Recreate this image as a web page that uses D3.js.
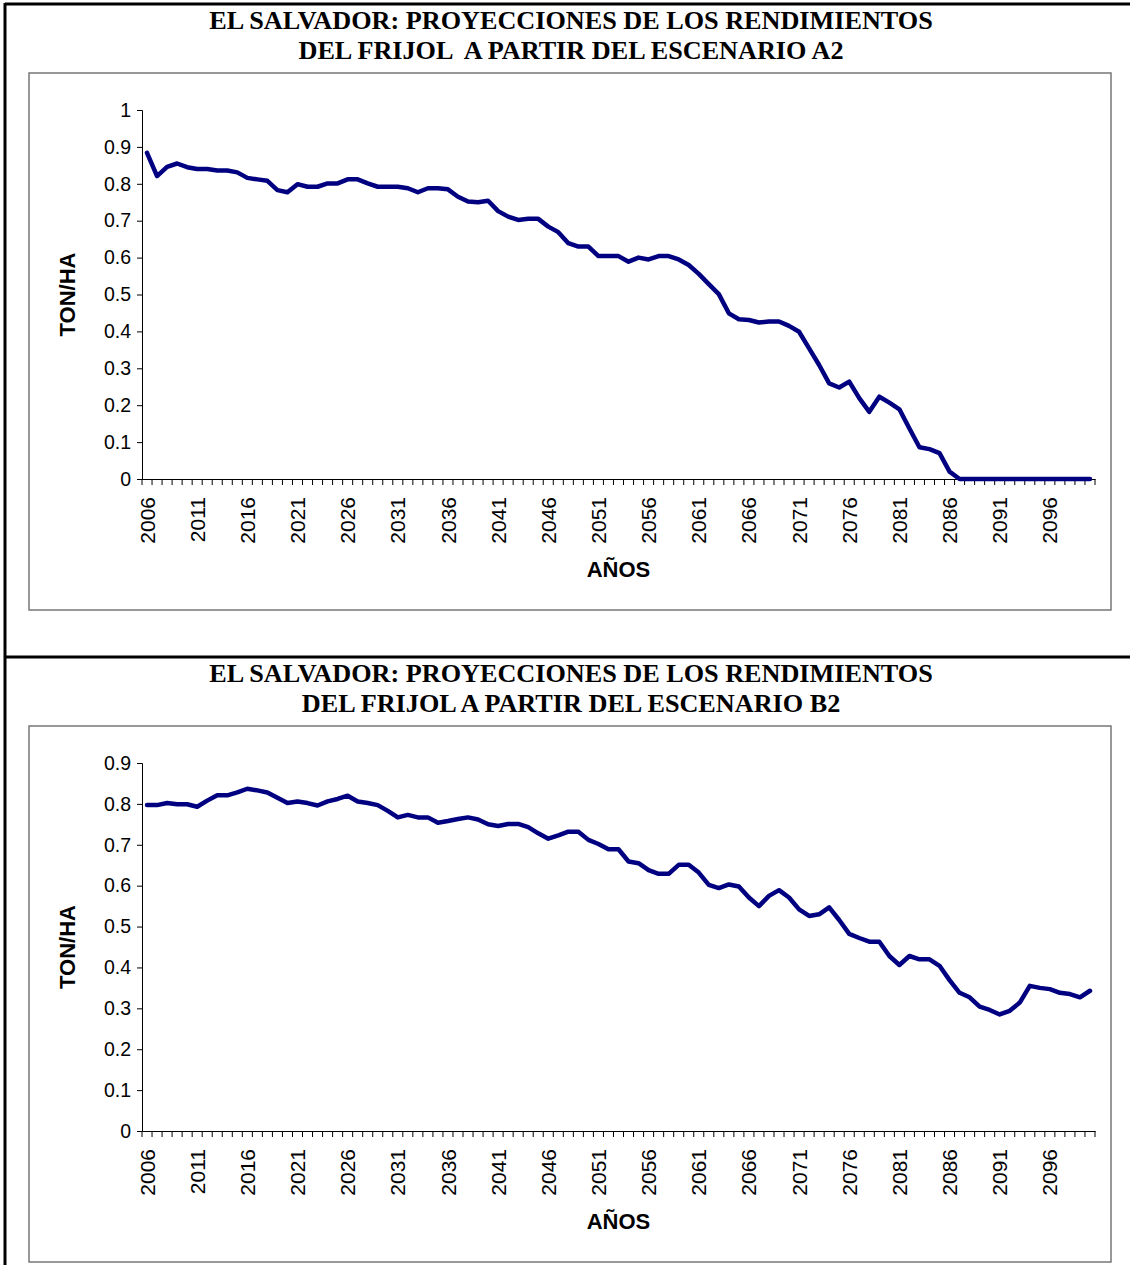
<!DOCTYPE html>
<html><head><meta charset="utf-8">
<script src="https://cdn.jsdelivr.net/npm/d3@7"></script>
<style>body{margin:0;background:#fff}svg{display:block}</style>
</head><body>
<svg id="c" width="1130" height="1265"></svg>
<script>
const years = [2006,2007,2008,2009,2010,2011,2012,2013,2014,2015,2016,2017,2018,2019,2020,2021,2022,2023,2024,2025,
2026,2027,2028,2029,2030,2031,2032,2033,2034,2035,2036,2037,2038,2039,2040,2041,2042,2043,2044,2045,
2046,2047,2048,2049,2050,2051,2052,2053,2054,2055,2056,2057,2058,2059,2060,2061,2062,2063,2064,2065,
2066,2067,2068,2069,2070,2071,2072,2073,2074,2075,2076,2077,2078,2079,2080,2081,2082,2083,2084,2085,
2086,2087,2088,2089,2090,2091,2092,2093,2094,2095,2096,2097,2098,2099,2100];
const xTickLabels = ["2006","2011","2016","2021","2026","2031","2036","2041","2046","2051","2056","2061","2066","2071","2076","2081","2086","2091","2096"];
const a2Values = [0.884,0.821,0.846,0.855,0.845,0.840,0.840,0.836,0.836,0.831,0.816,0.812,0.808,0.783,0.777,0.799,0.792,0.792,0.801,0.801,
0.812,0.812,0.801,0.792,0.792,0.792,0.788,0.777,0.788,0.788,0.785,0.765,0.752,0.750,0.754,0.726,0.711,0.702,0.705,0.705,
0.684,0.669,0.639,0.630,0.630,0.604,0.604,0.604,0.589,0.600,0.595,0.604,0.604,0.595,0.580,0.556,0.528,0.501,0.449,0.433,
0.431,0.424,0.427,0.427,0.415,0.399,0.354,0.309,0.259,0.248,0.264,0.219,0.182,0.223,0.207,0.189,0.137,0.086,0.081,0.070,
0.020,0,0,0,0,0,0,0,0,0,0,0,0,0,0];
const b2Values = [0.797,0.797,0.802,0.799,0.799,0.793,0.808,0.821,0.821,0.828,0.837,0.833,0.828,0.815,0.802,0.806,0.802,0.796,0.806,0.812,
0.820,0.806,0.802,0.797,0.783,0.767,0.773,0.767,0.767,0.754,0.758,0.763,0.767,0.762,0.750,0.746,0.751,0.751,0.743,0.728,
0.715,0.723,0.732,0.732,0.712,0.702,0.689,0.689,0.659,0.655,0.638,0.629,0.629,0.651,0.651,0.632,0.602,0.594,0.603,0.598,
0.571,0.550,0.575,0.589,0.571,0.542,0.526,0.530,0.547,0.516,0.482,0.472,0.463,0.463,0.428,0.406,0.428,0.420,0.420,0.404,
0.369,0.338,0.327,0.304,0.296,0.285,0.294,0.314,0.355,0.350,0.347,0.338,0.335,0.327,0.343];
const yTicksA2 = [0,0.1,0.2,0.3,0.4,0.5,0.6,0.7,0.8,0.9,1];
const yTicksB2 = [0,0.1,0.2,0.3,0.4,0.5,0.6,0.7,0.8,0.9];
const titleA2 = ["EL SALVADOR: PROYECCIONES DE LOS RENDIMIENTOS","DEL FRIJOL  A PARTIR DEL ESCENARIO A2"];
const titleB2 = ["EL SALVADOR: PROYECCIONES DE LOS RENDIMIENTOS","DEL FRIJOL A PARTIR DEL ESCENARIO B2"];
const yLabel = "TON/HA", xLabel = "AÑOS";

const svg = d3.select("#c");
// outer frame
svg.append("line").attr("x1",5).attr("y1",4).attr("x2",1130).attr("y2",4).attr("stroke","#000").attr("stroke-width",3);
svg.append("line").attr("x1",5).attr("y1",3).attr("x2",5).attr("y2",1265).attr("stroke","#000").attr("stroke-width",3);
svg.append("line").attr("x1",5).attr("y1",657).attr("x2",1130).attr("y2",657).attr("stroke","#000").attr("stroke-width",3);

function drawChart(o){
  const g = svg.append("g");
  g.append("rect").attr("x",o.box[0]).attr("y",o.box[1]).attr("width",o.box[2]).attr("height",o.box[3])
    .attr("fill","none").attr("stroke","#777").attr("stroke-width",1.5);
  g.selectAll("text.title").data(o.title).join("text").attr("class","title")
    .attr("x",571).attr("y",(d,i)=>o.titleY+i*30).attr("text-anchor","middle")
    .style("white-space","pre")
    .attr("font-family","'Liberation Serif','Times New Roman',serif").attr("font-weight","bold")
    .attr("font-size",26.2).text(d=>d);
  const x = d3.scaleBand().domain(o.cats).range([142,1095]);
  const y = d3.scaleLinear().domain([0,o.yMax]).range([o.y0,o.yTop]);
  // y axis
  const ya = d3.axisLeft(y).tickValues(o.yTicks).tickSize(5).tickPadding(6).tickFormat(d=>d3.format("")(+d.toFixed(1)));
  const yg = g.append("g").attr("transform","translate(142,0)").call(ya);
  yg.select(".domain").attr("stroke","#000");
  yg.selectAll("text").attr("font-family","'Liberation Sans',Arial,sans-serif").attr("font-size",19.5).attr("fill","#000");
  // x axis
  const xa = d3.axisBottom(x).tickSize(0).tickFormat(d=> xTickLabels.includes(String(d)) ? String(d) : "");
  const xg = g.append("g").attr("transform",`translate(0,${o.y0})`).call(xa);
  xg.select(".domain").attr("stroke","#000");
  xg.selectAll(".tick text").attr("font-family","'Liberation Sans',Arial,sans-serif").attr("font-size",21).attr("fill","#000")
    .attr("text-anchor","end").attr("transform","rotate(-90)").attr("x",-18).attr("y",0).attr("dy","0.36em");
  // category boundary ticks
  const edges = o.cats.map(c=>x(c)).concat([x.range()[1]]);
  xg.selectAll("line.edge").data(edges).join("line").attr("class","edge")
    .attr("x1",d=>d).attr("x2",d=>d).attr("y1",0).attr("y2",6).attr("stroke","#000");
  // line
  const line = d3.line().x((d,i)=>x(o.cats[i])+x.bandwidth()/2).y(d=>y(d));
  g.append("path").datum(o.values).attr("d",line).attr("fill","none").attr("stroke","#000080")
    .attr("stroke-width",4.5).attr("stroke-linejoin","round").attr("stroke-linecap","round");
  // axis titles
  g.append("text").attr("transform",`translate(75,${(o.y0+o.yTop)/2}) rotate(-90)`).attr("text-anchor","middle")
    .attr("font-family","'Liberation Sans',Arial,sans-serif").attr("font-weight","bold").attr("font-size",22).text(yLabel);
  g.append("text").attr("x",618.5).attr("y",o.xLabelY).attr("text-anchor","middle")
    .attr("font-family","'Liberation Sans',Arial,sans-serif").attr("font-weight","bold").attr("font-size",22).text(xLabel);
}
drawChart({box:[29,73,1082,537],title:titleA2,titleY:29,cats:years,values:a2Values,yMax:1,yTicks:yTicksA2,y0:479,yTop:110,xLabelY:577});
drawChart({box:[29,726,1082,536],title:titleB2,titleY:682,cats:years,values:b2Values,yMax:0.9,yTicks:yTicksB2,y0:1131,yTop:763,xLabelY:1229});
</script>
</body></html>
